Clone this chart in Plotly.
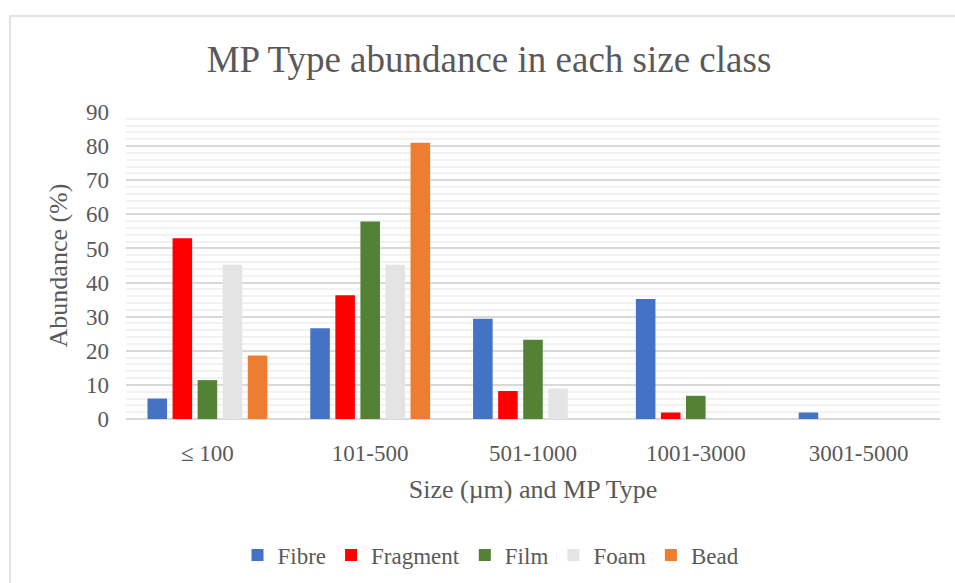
import plotly.graph_objects as go

categories = ["≤ 100", "101-500", "501-1000", "1001-3000", "3001-5000"]
series_names = ["Fibre", "Fragment", "Film", "Foam", "Bead"]
fibre = [6.0, 26.6, 29.4, 35.2, 1.9]
fragment = [53.0, 36.3, 8.2, 1.9, 0]
film = [11.4, 57.9, 23.2, 6.8, 0]
foam = [45.2, 45.2, 8.9, 0, 0]
bead = [18.6, 81.0, 0, 0, 0]
series_values = [fibre, fragment, film, foam, bead]
colors = ["#4472C4", "#FF0000", "#548235", "#E4E4E4", "#ED7D31"]
y_ticks = list(range(0, 91, 10))

W, H = 955, 583
ml, mr, mt, mb = 126, 15, 112, 164
pw, ph = W - ml - mr, H - mt - mb

font = "Liberation Serif"
gray = "#595959"

fig = go.Figure()
for name, vals, c in zip(series_names, series_values, colors):
    fig.add_trace(go.Bar(
        name=name, x=categories, y=vals,
        marker=dict(color=c, line=dict(width=0)),
    ))

def px_x(p):
    return (p - ml) / pw

def px_y(q):
    return (H - mb - q) / ph

fig.update_layout(
    width=W, height=H,
    margin=dict(l=ml, r=mr, t=mt, b=mb, autoexpand=False),
    paper_bgcolor="white", plot_bgcolor="white",
    barmode="group", bargap=0.23, bargroupgap=0.22,
    font=dict(family=font, color=gray, size=23),
    title=dict(text="MP Type abundance in each size class",
               x=489 / W, xref="container", xanchor="center",
               y=1 - 59 / H, yref="container", yanchor="middle",
               font=dict(size=37, color=gray, family=font)),
    xaxis=dict(showgrid=False, showline=False, ticks="", automargin=False,
               ticklabelstandoff=18,
               tickfont=dict(size=23, color=gray, family=font),
               title=dict(text="Size (µm) and MP Type", standoff=14,
                          font=dict(size=26, color=gray, family=font))),
    yaxis=dict(range=[0, 90], tickvals=y_ticks, showline=False, ticks="", automargin=False,
               gridcolor="#D9D9D9", gridwidth=1.5,
               zeroline=True, zerolinecolor="#D9D9D9", zerolinewidth=1.5,
               minor=dict(dtick=2, showgrid=True, gridcolor="#F2F2F2", gridwidth=1.5),
               ticklabelstandoff=16,
               tickfont=dict(size=23, color=gray, family=font),
               title=dict(text="Abundance (%)", standoff=10,
                          font=dict(size=26, color=gray, family=font))),
    legend=dict(orientation="h", x=px_x(491), xanchor="center",
                y=px_y(555), yanchor="middle",
                font=dict(size=23, color=gray, family=font), itemsizing="constant",
                itemwidth=30, traceorder="normal"),
    shapes=[dict(type="rect", xref="paper", yref="paper",
                 x0=px_x(10), x1=px_x(W + 20), y0=px_y(H + 20), y1=px_y(16),
                 line=dict(color="#D9D9D9", width=1.5), fillcolor="rgba(0,0,0,0)",
                 layer="below")],
)

fig.write_html("out.html", config={"displayModeBar": False},
               post_script="document.body.style.margin='0';document.body.style.overflow='hidden';")
